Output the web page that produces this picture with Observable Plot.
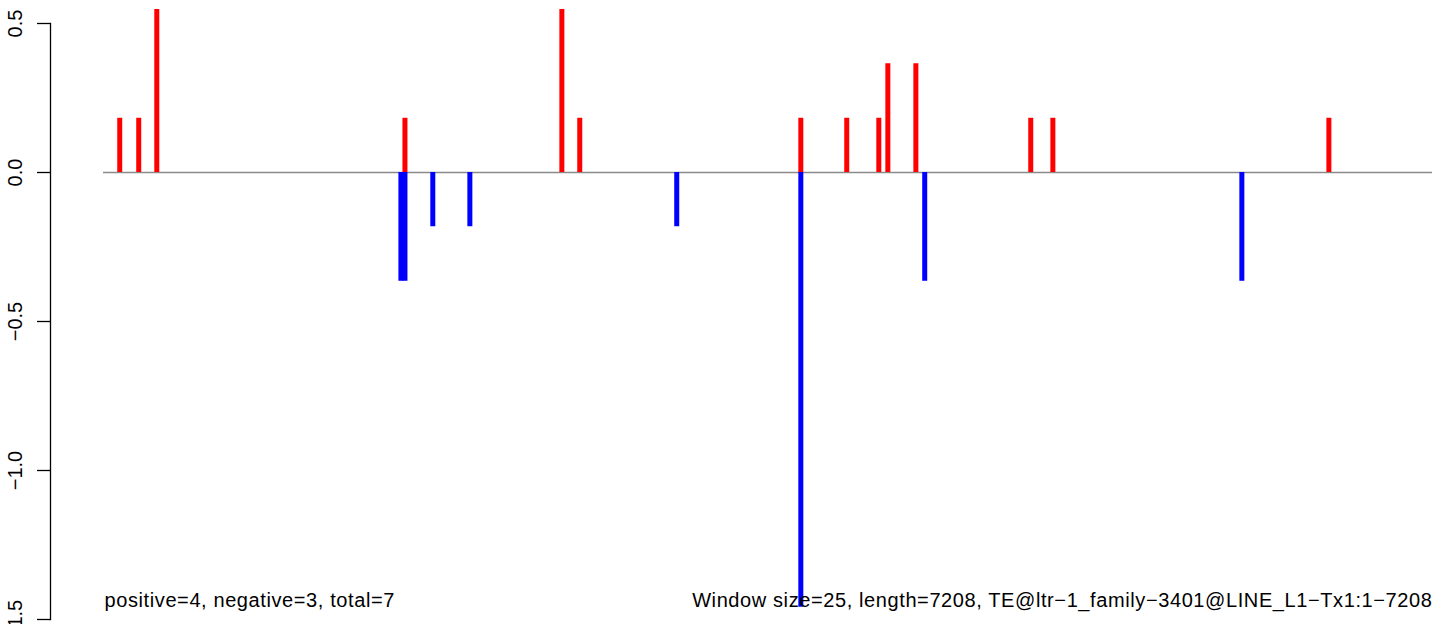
<!DOCTYPE html>
<html>
<head>
<meta charset="utf-8">
<script src="https://cdn.jsdelivr.net/npm/d3@7"></script>
<script src="https://cdn.jsdelivr.net/npm/@observablehq/plot@0.6"></script>
<style>
  html, body { margin: 0; padding: 0; background: white; }
  svg { display: block; }
</style>
</head>
<body>
<script>
// Bar positions along the element (bp) and their scores
const positions = [88, 191, 289, 1613, 1635, 1635, 1786, 1987, 2486, 2583, 3109, 3782, 3782, 4031, 4205, 4254, 4406, 4454, 5029, 5149, 6174, 6646];
const scores    = [0.182, 0.182, 0.547, -0.365, -0.365, 0.182, -0.182, -0.182, 0.547, 0.182, -0.182, 0.182, -1.459, 0.182, 0.182, 0.365, 0.365, -0.365, 0.182, 0.182, -0.365, 0.182];
const seqLength = 7208;
const yTicks = [0.5, 0, -0.5, -1, -1.5];
const yTickLabels = ["0.5", "0.0", "\u22120.5", "\u22121.0", "\u22121.5"];
const leftNote = "positive=4, negative=3, total=7";
const rightNote = "Window size=25, length=7208, TE@ltr\u22121_family\u22123401@LINE_L1\u2212Tx1:1\u22127208";

const bars = positions.map((p, i) => ({pos: p, score: scores[i]}));
const ticks = yTicks.map((v, i) => ({v, label: yTickLabels[i]}));

const chart = Plot.plot({
  width: 1444,
  height: 624,
  marginLeft: 50,
  marginRight: 12,
  marginTop: 23,
  marginBottom: 5,
  style: {fontFamily: "'Liberation Sans', Arial, sans-serif", fontSize: "20px", background: "white", color: "black"},
  x: {domain: [0, seqLength], range: [103, 1432], axis: null},
  y: {domain: [-1.5, 0.5]},
  marks: [
    Plot.ruleY([0], {x1: 0, x2: seqLength, stroke: "#8a8a8a", strokeWidth: 1.4}),
    Plot.ruleX(bars, {x: "pos", y1: 0, y2: "score", stroke: d => d.score > 0 ? "#ff0000" : "#0000ff", strokeWidth: 5}),
    Plot.frame({anchor: "left", stroke: "black", strokeWidth: 1.3}),
    Plot.axisY({ticks: yTicks, tickSize: 13, tickFormat: () => "", stroke: "black", strokeWidth: 1.3}),
    Plot.text(ticks, {y: "v", text: "label", frameAnchor: "left", dx: -29, rotate: -90, textAnchor: "middle", lineAnchor: "bottom", fontSize: 20, fill: "black"}),
    Plot.text([leftNote], {text: d => d, frameAnchor: "bottom-left", dx: 54, dy: -13, textAnchor: "start", lineAnchor: "bottom", fontSize: 20, fill: "black"}),
    Plot.text([rightNote], {text: d => d, frameAnchor: "bottom-right", dx: 0, dy: -13, textAnchor: "end", lineAnchor: "bottom", fontSize: 20, fill: "black"})
  ]
});
chart.querySelectorAll("text").forEach(t => {
  if (t.textContent.length > 10) t.setAttribute("letter-spacing", "0.6");
});
document.body.appendChild(chart);
</script>
</body>
</html>
